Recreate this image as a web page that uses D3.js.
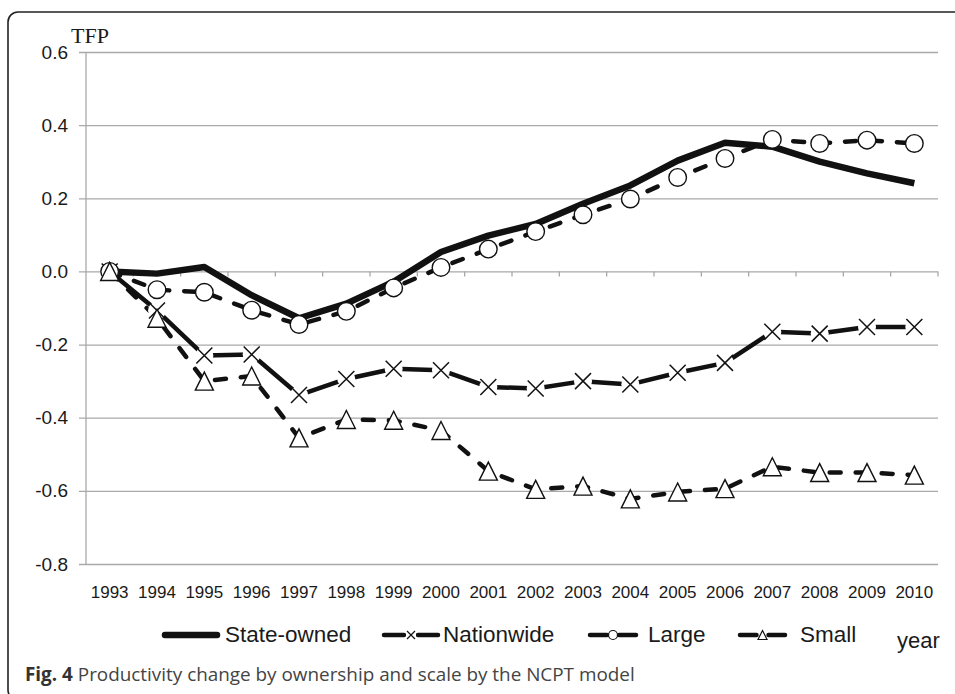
<!DOCTYPE html>
<html>
<head>
<meta charset="utf-8">
<script src="https://cdn.jsdelivr.net/npm/d3@7"></script>
<style>
  html, body { margin: 0; padding: 0; background: #fff; }
  svg { display: block; }
</style>
</head>
<body>
<svg id="chart" width="955" height="694"></svg>
<script>
// TFP change by ownership and scale (NCPT model), 1993-2010

const years = ["1993", "1994", "1995", "1996", "1997", "1998", "1999", "2000", "2001",
               "2002", "2003", "2004", "2005", "2006", "2007", "2008", "2009", "2010"];

const yTicks = [-0.8, -0.6, -0.4, -0.2, 0.0, 0.2, 0.4, 0.6];

const stateOwned = [0.000, -0.006, 0.012, -0.065, -0.128, -0.088, -0.028, 0.053, 0.098,
                    0.130, 0.185, 0.235, 0.303, 0.352, 0.341, 0.300, 0.268, 0.241];
const nationwide = [0.000, -0.107, -0.230, -0.227, -0.338, -0.294, -0.266, -0.270, -0.316,
                    -0.320, -0.300, -0.309, -0.277, -0.250, -0.165, -0.170, -0.152, -0.152];
const large      = [0.000, -0.050, -0.057, -0.106, -0.145, -0.109, -0.045, 0.011, 0.061,
                    0.109, 0.155, 0.198, 0.257, 0.309, 0.361, 0.350, 0.359, 0.350];
const small      = [0.000, -0.128, -0.300, -0.286, -0.455, -0.405, -0.407, -0.435, -0.546,
                    -0.596, -0.587, -0.622, -0.603, -0.594, -0.534, -0.550, -0.550, -0.557];

const seriesNames = ["State-owned", "Nationwide", "Large", "Small"];

const svg = d3.select("#chart");
const INK = "#1a1a1a";
const GRID = "#a9a9a9";
const SANS = "'Liberation Sans', Arial, sans-serif";

// frame of the figure panel (right and bottom run off the page)
svg.append("rect")
  .attr("x", 8).attr("y", 12)
  .attr("width", 980).attr("height", 688)
  .attr("rx", 10)
  .attr("fill", "none")
  .attr("stroke", "#222").attr("stroke-width", 1.6);

const plot = { left: 86, right: 938, top: 52, bottom: 564 };

const x = d3.scaleBand().domain(years).range([plot.left, plot.right]).paddingInner(0).paddingOuter(0);
const cx = d => x(d) + x.bandwidth() / 2;
const y = d3.scaleLinear().domain([-0.8, 0.6]).range([plot.bottom, plot.top]);

const fmt = d3.formatLocale({ decimal: ".", thousands: ",", grouping: [3], currency: ["", ""], minus: "-" }).format(".1f");

// horizontal gridlines + y labels
const yAxis = d3.axisLeft(y).tickValues(yTicks).tickFormat(fmt)
  .tickSize(-(plot.right - plot.left + 7)).tickPadding(11);
const yg = svg.append("g").attr("transform", `translate(${plot.left - 7},0)`).call(yAxis);
yg.select(".domain").remove();
yg.selectAll(".tick line").attr("stroke", GRID).attr("stroke-width", 1.3);
yg.selectAll(".tick text").attr("font-family", SANS).attr("font-size", 19).attr("fill", INK);

// vertical value axis line
svg.append("line")
  .attr("x1", plot.left).attr("x2", plot.left)
  .attr("y1", plot.top).attr("y2", plot.bottom)
  .attr("stroke", GRID).attr("stroke-width", 1.3);

// category tick marks sit on the zero line, labels sit under the plot
const boundaries = years.map(d => x(d) + x.bandwidth()).slice(0);
svg.append("g").selectAll("line").data(boundaries).join("line")
  .attr("x1", d => d).attr("x2", d => d)
  .attr("y1", y(0)).attr("y2", y(0) + 5)
  .attr("stroke", GRID).attr("stroke-width", 1.3);

svg.append("g").selectAll("text").data(years).join("text")
  .attr("x", d => cx(d)).attr("y", 598)
  .attr("text-anchor", "middle")
  .attr("font-family", SANS).attr("font-size", 17).attr("fill", INK)
  .text(d => d);

svg.append("text")
  .attr("x", 71).attr("y", 43)
  .attr("font-family", "'Liberation Serif', 'Times New Roman', serif")
  .attr("font-size", 22).attr("fill", INK)
  .text("TFP");

svg.append("text")
  .attr("x", 897).attr("y", 648)
  .attr("font-family", SANS).attr("font-size", 22).attr("fill", INK)
  .text("year");

// lines
const line = d3.line().x((d, i) => cx(years[i])).y(d => y(d));

function drawLine(values, width, dash) {
  svg.append("path")
    .datum(values)
    .attr("d", line)
    .attr("fill", "none")
    .attr("stroke", "#111")
    .attr("stroke-width", width)
    .attr("stroke-linejoin", "round")
    .attr("stroke-linecap", dash ? "round" : "butt")
    .attr("stroke-dasharray", dash || null);
}

drawLine(stateOwned, 6.5, null);
drawLine(nationwide, 4.5, null);
drawLine(large, 4.5, "11,15");
drawLine(small, 4.5, "11,15");

// markers
function xMark(g, px, py, r, sw) {
  g.append("circle").attr("cx", px).attr("cy", py).attr("r", r + 1).attr("fill", "#fff");
  g.append("path")
    .attr("d", `M${px - r},${py - r}L${px + r},${py + r}M${px - r},${py + r}L${px + r},${py - r}`)
    .attr("stroke", "#111").attr("stroke-width", sw).attr("fill", "none");
}
function circleMark(g, px, py, r, sw) {
  g.append("circle").attr("cx", px).attr("cy", py).attr("r", r)
    .attr("fill", "#fff").attr("stroke", "#111").attr("stroke-width", sw);
}
function triMark(g, px, py, r, sw) {
  g.append("path")
    .attr("d", `M${px},${py - r}L${px + r},${py + r}L${px - r},${py + r}Z`)
    .attr("fill", "#fff").attr("stroke", "#111").attr("stroke-width", sw)
    .attr("stroke-linejoin", "miter");
}

const markers = svg.append("g");
nationwide.forEach((v, i) => xMark(markers, cx(years[i]), y(v), 8, 1.5));
large.forEach((v, i) => circleMark(markers, cx(years[i]), y(v), 8.8, 1.4));
small.forEach((v, i) => triMark(markers, cx(years[i]), y(v), 9, 1.4));

// legend
const legY = 635;
const leg = svg.append("g");
const legendItems = [
  { name: seriesNames[0], x0: 162, x1: 220, tx: 225, kind: "solid" },
  { name: seriesNames[1], x0: 382, x1: 440, tx: 443, kind: "x" },
  { name: seriesNames[2], x0: 588, x1: 638, tx: 648, kind: "circle" },
  { name: seriesNames[3], x0: 738, x1: 787, tx: 800, kind: "tri" },
];
legendItems.forEach(it => {
  const mid = (it.x0 + it.x1) / 2;
  if (it.kind === "solid") {
    leg.append("line").attr("x1", it.x0 + 3).attr("x2", it.x1 - 3).attr("y1", legY).attr("y2", legY)
      .attr("stroke", "#111").attr("stroke-width", 6.5).attr("stroke-linecap", "round");
  } else {
    const gap = it.kind === "x" ? 7 : 6;
    [[it.x0 + 2, mid - gap], [mid + gap, it.x1 - 2]].forEach(([a, b]) => {
      leg.append("line").attr("x1", a).attr("x2", b).attr("y1", legY).attr("y2", legY)
        .attr("stroke", "#111").attr("stroke-width", 4.5).attr("stroke-linecap", "round");
    });
    if (it.kind === "x") xMark(leg, mid, legY, 4, 1.2);
    if (it.kind === "circle") circleMark(leg, mid, legY, 4.5, 1.2);
    if (it.kind === "tri") triMark(leg, mid, legY, 4.5, 1.2);
  }
  leg.append("text")
    .attr("x", it.tx).attr("y", legY + 7)
    .attr("font-family", SANS).attr("font-size", 22.5).attr("fill", INK)
    .text(it.name);
});

// caption, squeezed to the width of the original
const cap = svg.append("text")
  .attr("x", 25).attr("y", 681)
  .attr("font-family", "'Open Sans', 'Noto Sans', sans-serif")
  .attr("font-size", 18);
cap.append("tspan").attr("font-weight", "bold").attr("fill", "#333").text("Fig. 4");
cap.append("tspan").attr("fill", "#444").text(" Productivity change by ownership and scale by the NCPT model");
const capLen = cap.node().getComputedTextLength();
cap.attr("font-size", 18 * 610 / capLen);
</script>
</body>
</html>
